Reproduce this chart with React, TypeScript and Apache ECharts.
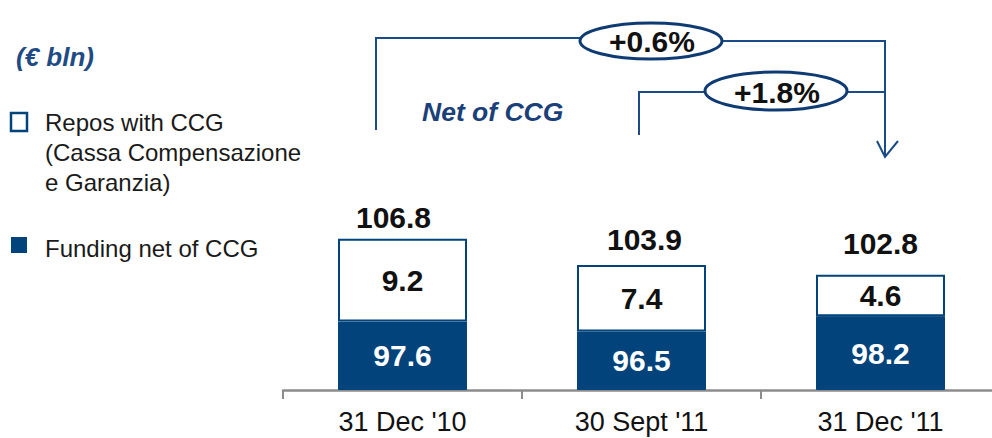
import React, { useEffect, useRef } from "react";
import * as echarts from "echarts";

const categories = ["31 Dec '10", "30 Sept '11", "31 Dec '11"];
const fundingNetOfCCG = [97.6, 96.5, 98.2];
const reposWithCCG = [9.2, 7.4, 4.6];
const totals = [106.8, 103.9, 102.8];
const unitLabel = "(€ bln)";
const legendRepos = ["Repos with CCG", "(Cassa Compensazione", "e Garanzia)"];
const legendFunding = "Funding net of CCG";
const changeAll = "+0.6%";
const changeLast = "+1.8%";
const netLabel = "Net of CCG";

const NAVY = "#01437a";
const LINE = "#1b4b86";
const FONT = "'Liberation Sans', Arial, sans-serif";
const totalLabelOffsets = [[-9, 0], [3, -4], [0, -10]];

export default function App() {
  const ref = useRef<HTMLDivElement>(null);
  useEffect(() => {
    if (!ref.current) return;
    const chart = echarts.init(ref.current, undefined, { renderer: "svg" });
    const legendTexts = legendRepos.map((t, i) => ({
      type: "text",
      x: 45,
      y: 122 + i * 30,
      style: { text: t, font: `24px ${FONT}`, fill: "#1a1a1a", verticalAlign: "middle" },
    }));
    const valueLabel = (color: string) => ({
      show: true,
      position: "inside",
      color,
      fontSize: 30,
      fontWeight: "bold",
      fontFamily: FONT,
      formatter: (p: any) => Number(p.value).toFixed(1),
    });
    chart.setOption({
      animation: false,
      backgroundColor: "#ffffff",
      textStyle: { fontFamily: FONT },
      grid: { left: 283, top: 210, width: 717, height: 180, containLabel: false },
      xAxis: {
        type: "category",
        data: categories,
        axisLine: { lineStyle: { color: "#8c8c8c", width: 2.5 } },
        axisTick: { show: true, length: 9, lineStyle: { color: "#8c8c8c", width: 2 } },
        axisLabel: { color: "#111", fontSize: 27, margin: 18, fontFamily: FONT },
      },
      yAxis: {
        type: "value",
        min: 90,
        max: 110,
        startValue: 90,
        show: false,
        splitLine: { show: false },
      },
      series: [
        {
          name: "Funding net of CCG",
          type: "bar",
          stack: "total",
          barWidth: 129,
          data: fundingNetOfCCG,
          itemStyle: { color: NAVY, borderColor: NAVY, borderWidth: 1 },
          label: valueLabel("#ffffff"),
        },
        {
          name: "Repos with CCG",
          type: "bar",
          stack: "total",
          barWidth: 129,
          data: reposWithCCG,
          itemStyle: { color: "#ffffff", borderColor: NAVY, borderWidth: 2 },
          label: valueLabel("#111"),
        },
        {
          name: "Total",
          type: "line",
          data: totals.map((v, i) => ({ value: v, label: { offset: totalLabelOffsets[i] } })),
          symbol: "circle",
          symbolSize: 1,
          showSymbol: true,
          lineStyle: { width: 0, opacity: 0 },
          itemStyle: { color: "rgba(0,0,0,0)" },
          label: {
            show: true,
            position: "top",
            distance: 6,
            color: "#111",
            fontSize: 30,
            fontWeight: "bold",
            fontFamily: FONT,
            formatter: (p: any) => Number(p.value).toFixed(1),
          },
        },
      ],
      graphic: [
        {
          type: "text",
          x: 16,
          y: 57,
          style: { text: unitLabel, font: `italic bold 26px ${FONT}`, fill: "#1f4b85", verticalAlign: "middle" },
        },
        {
          type: "rect",
          shape: { x: 11, y: 113, width: 16, height: 18 },
          style: { fill: "#ffffff", stroke: NAVY, lineWidth: 2.5 },
        },
        ...legendTexts,
        {
          type: "rect",
          shape: { x: 11, y: 237, width: 16, height: 16 },
          style: { fill: NAVY },
        },
        {
          type: "text",
          x: 45,
          y: 248,
          style: { text: legendFunding, font: `24px ${FONT}`, fill: "#1a1a1a", verticalAlign: "middle" },
        },
        {
          type: "polyline",
          shape: { points: [[376, 130], [376, 38], [580, 38]] },
          style: { stroke: LINE, lineWidth: 2, fill: null },
        },
        {
          type: "polyline",
          shape: { points: [[722, 41], [885, 41], [885, 157]] },
          style: { stroke: LINE, lineWidth: 2, fill: null },
        },
        {
          type: "polyline",
          shape: { points: [[877, 141], [885, 157], [898, 141]] },
          style: { stroke: LINE, lineWidth: 2, fill: null },
        },
        {
          type: "polyline",
          shape: { points: [[639, 135], [639, 92], [705, 92]] },
          style: { stroke: LINE, lineWidth: 2, fill: null },
        },
        {
          type: "line",
          shape: { x1: 847, y1: 92, x2: 885, y2: 92 },
          style: { stroke: LINE, lineWidth: 2 },
        },
        {
          type: "ellipse",
          shape: { cx: 651, cy: 41, rx: 71, ry: 18 },
          style: { fill: "#ffffff", stroke: "#0f3b73", lineWidth: 3 },
        },
        {
          type: "text",
          x: 652,
          y: 41,
          style: { text: changeAll, font: `bold 30px ${FONT}`, fill: "#111", align: "center", verticalAlign: "middle" },
        },
        {
          type: "ellipse",
          shape: { cx: 776, cy: 91, rx: 71, ry: 19 },
          style: { fill: "#ffffff", stroke: "#0f3b73", lineWidth: 3 },
        },
        {
          type: "text",
          x: 777,
          y: 92,
          style: { text: changeLast, font: `bold 30px ${FONT}`, fill: "#111", align: "center", verticalAlign: "middle" },
        },
        {
          type: "text",
          x: 422,
          y: 112,
          style: { text: netLabel, font: `italic bold 26.5px ${FONT}`, fill: "#1b3f78", verticalAlign: "middle" },
        },
      ],
    });
    return () => chart.dispose();
  }, []);
  return (
    <div
      ref={ref}
      style={{ position: "absolute", left: 0, top: 0, width: 1000, height: 438 }}
    />
  );
}
